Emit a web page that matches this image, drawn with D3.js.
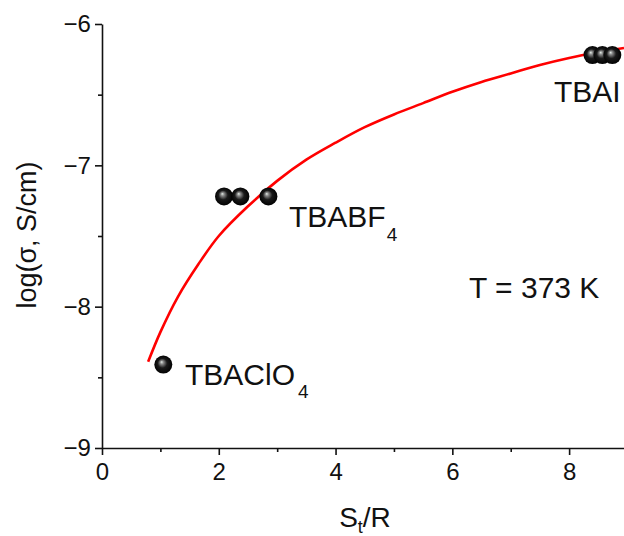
<!DOCTYPE html>
<html>
<head>
<meta charset="utf-8">
<script src="https://cdn.jsdelivr.net/npm/d3@7"></script>
<style>
  body { margin: 0; background: #fff; }
  text { font-family: "Liberation Sans", Arial, sans-serif; }
</style>
</head>
<body>
<div id="chart"></div>
<script>
// measured points (S_t/R, log sigma)
var clo4X = [1.05];
var clo4Y = [-8.41];
var bf4X = [2.09, 2.37, 2.85];
var bf4Y = [-7.22, -7.22, -7.22];
var iX = [8.40, 8.57, 8.74];
var iY = [-6.22, -6.22, -6.22];

// fitted curve
var fitX = [0.79, 1.0, 1.3, 1.65, 2.0, 2.5, 3.0, 3.5, 4.0, 4.5, 5.0, 5.5, 6.0, 6.5, 7.0, 7.5, 8.0, 8.5, 8.94];
var fitY = [-8.39, -8.18, -7.93, -7.70, -7.50, -7.29, -7.11, -6.96, -6.84, -6.73, -6.64, -6.56, -6.48, -6.41, -6.35, -6.29, -6.24, -6.20, -6.17];

var xTicks = [0, 2, 4, 6, 8];
var yTicks = [-9, -8, -7, -6];

var margin = {top: 24, right: 0, bottom: 88, left: 102},
    width = 624 - margin.left - margin.right,
    height = 536 - margin.top - margin.bottom;

var svg = d3.select("#chart")
  .append("svg")
    .attr("width", 624)
    .attr("height", 536)
  .append("g")
    .attr("transform", "translate(" + margin.left + "," + margin.top + ")");

var x = d3.scaleLinear().domain([0, 8.94]).range([0, width]);
var y = d3.scaleLinear().domain([-9, -6]).range([height, 0]);

// sphere look for the dots
var grad = svg.append("defs").append("radialGradient")
  .attr("id", "ball")
  .attr("cx", "50%").attr("cy", "50%").attr("r", "52%")
  .attr("fx", "40%").attr("fy", "35%");
grad.append("stop").attr("offset", "0%").attr("stop-color", "#e4eee8");
grad.append("stop").attr("offset", "18%").attr("stop-color", "#8a8a8a");
grad.append("stop").attr("offset", "50%").attr("stop-color", "#1a1a1a");
grad.append("stop").attr("offset", "100%").attr("stop-color", "#000");

var minus = function(v) { return String(v).replace("-", "\u2212"); };

// X axis
var gx = svg.append("g")
  .attr("transform", "translate(0," + height + ")")
  .call(d3.axisBottom(x).tickValues(xTicks).tickSize(7).tickSizeOuter(0).tickFormat(d3.format("d")));
svg.append("g")
  .attr("transform", "translate(0," + height + ")")
  .call(d3.axisBottom(x).tickValues([1, 3, 5, 7]).tickSize(4).tickSizeOuter(0).tickFormat(""))
  .select(".domain").remove();
gx.selectAll("text").attr("font-size", 24).attr("dy", "0.9em").attr("fill", "#111");

// Y axis
var gy = svg.append("g")
  .call(d3.axisLeft(y).tickValues(yTicks).tickSize(7).tickSizeOuter(0).tickFormat(minus));
svg.append("g")
  .call(d3.axisLeft(y).tickValues([-8.5, -7.5, -6.5]).tickSize(4).tickSizeOuter(0).tickFormat(""))
  .select(".domain").remove();
gy.selectAll("text").attr("font-size", 24).attr("dx", "-0.05em").attr("fill", "#111");

svg.selectAll(".domain, .tick line").attr("stroke", "#111").attr("stroke-width", 1.6);

// axis titles
svg.append("text")
  .attr("transform", "translate(" + (-66) + "," + 211 + ") rotate(-90)")
  .style("text-anchor", "middle")
  .attr("font-size", 27)
  .attr("fill", "#111")
  .text("log(\u03c3, S/cm)");
var xt = svg.append("text")
  .attr("x", 263)
  .attr("y", height + 79)
  .style("text-anchor", "middle")
  .attr("font-size", 28)
  .attr("fill", "#111");
xt.append("tspan").text("S");
xt.append("tspan").attr("font-size", 18).attr("dy", 6).text("t");
xt.append("tspan").attr("dy", -6).text("/R");

// fit curve
var line = d3.line()
  .x(function(d, i) { return x(fitX[i]); })
  .y(function(d, i) { return y(fitY[i]); })
  .curve(d3.curveCatmullRom.alpha(0.5));
svg.append("path")
  .datum(fitX)
  .attr("d", line)
  .attr("fill", "none")
  .attr("stroke", "#f00")
  .attr("stroke-width", 2.6);

// dots
var pts = [];
clo4X.forEach(function(v, i) { pts.push([v, clo4Y[i]]); });
bf4X.forEach(function(v, i) { pts.push([v, bf4Y[i]]); });
iX.forEach(function(v, i) { pts.push([v, iY[i]]); });
svg.append("g")
  .selectAll("circle")
  .data(pts)
  .enter()
  .append("circle")
    .attr("cx", function(d) { return x(d[0]); })
    .attr("cy", function(d) { return y(d[1]); })
    .attr("r", 9)
    .style("fill", "url(#ball)");

// labels
function label(tx, ty, main, sub, sdx, sdy) {
  var t = svg.append("text").attr("x", tx).attr("y", ty).attr("font-size", 30).attr("fill", "#111");
  t.append("tspan").text(main);
  if (sub) t.append("tspan").attr("font-size", 19).attr("dx", sdx).attr("dy", sdy).text(sub);
}
label(452, 78, "TBAI");
label(187, 203, "TBABF", "4", 1, 14);
label(83, 361, "TBAClO", "4", 3, 13);
label(367, 274, "T = 373 K");
</script>
</body>
</html>
